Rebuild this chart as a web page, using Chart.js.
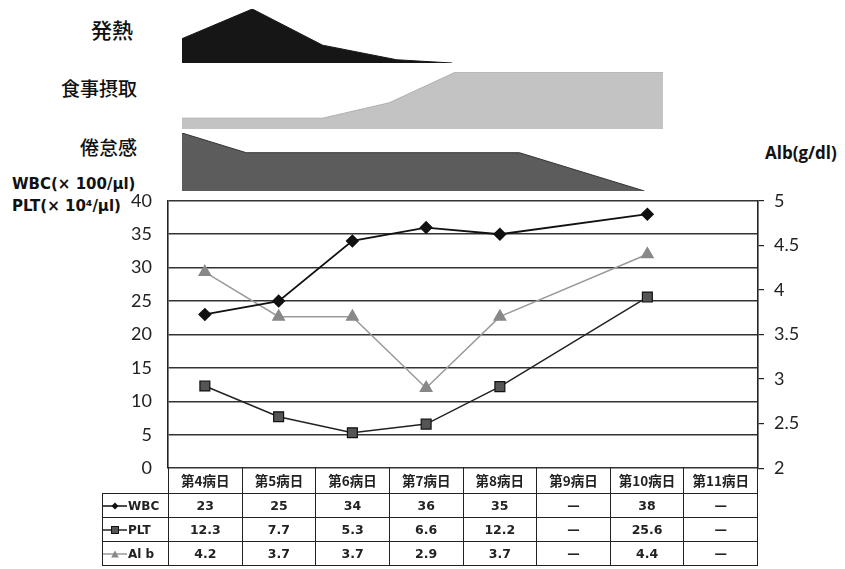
<!DOCTYPE html>
<html>
<head>
<meta charset="utf-8">
<script src="https://cdn.jsdelivr.net/npm/chart.js@4.4.1/dist/chart.umd.min.js"></script>
<style>
  body { margin: 0; background: #fff; }
  #page { position: relative; width: 845px; height: 569px; overflow: hidden; }
  .band { position: absolute; left: 182px; width: 481px; }
  .bandLabel { position: absolute; width: 140px; left: -3px; text-align: right; font-family: "Noto Sans CJK JP"; font-size: 19px; font-weight: 500; color: #111; line-height: 24px; }
  .axisTitle { position: absolute; font-family: "DejaVu Sans"; font-weight: bold; font-size: 15px; color: #111; white-space: nowrap; }
  #main { position: absolute; left: 0; top: 174px; }
  #tbl { position: absolute; left: 102px; top: 467px; border-collapse: collapse; table-layout: fixed; width: 656px; }
  #tbl td { border: 1.5px solid #222; text-align: center; padding: 0; height: 23px;
    font-family: "DejaVu Sans"; font-weight: bold; font-size: 12.5px; color: #222; }
  #tbl tr.head td { height: 26px; font-family: "Noto Sans CJK JP"; font-size: 13.5px; font-weight: bold; border-top: none; }
  #tbl tr.head td.blank { border: none; border-right: 1.5px solid #222; }
  #tbl td.legend { text-align: left; font-size: 12px; white-space: nowrap; }
  #tbl td.legend svg { vertical-align: middle; margin-right: 1px; }
</style>
</head>
<body>
<div id="page">
  <div class="bandLabel" style="top:17px; left:-7px; font-size:21px">発熱</div>
  <div class="bandLabel" style="top:76px">食事摂取</div>
  <div class="bandLabel" style="top:135px">倦怠感</div>
  <canvas id="fever" class="band" style="top:9px" width="481" height="54"></canvas>
  <canvas id="meal" class="band" style="top:72px" width="481" height="57"></canvas>
  <canvas id="fatigue" class="band" style="top:133px" width="481" height="58"></canvas>

  <div class="axisTitle" style="left:12px; top:175px">WBC(× 100/μl)</div>
  <div class="axisTitle" style="left:12px; top:197px">PLT(× 10⁴/μl)</div>
  <div class="axisTitle" style="left:765px; top:141px; font-family:'Open Sans'; font-size:17px">Alb(g/dl)</div>

  <canvas id="main" width="845" height="321"></canvas>
  <table id="tbl"></table>
</div>
<script>
// Categories (hospital day)
const days = ['第4病日', '第5病日', '第6病日', '第7病日', '第8病日', '第9病日', '第10病日', '第11病日'];

// Lab values ("—" in the table where missing)
const wbc = [23, 25, 34, 36, 35, null, 38, null];
const plt = [12.3, 7.7, 5.3, 6.6, 12.2, null, 25.6, null];
const alb = [4.2, 3.7, 3.7, 2.9, 3.7, null, 4.4, null];

// Symptom bands: x in hospital days, level 0..1
const feverDay = [3.7, 4.65, 5.6, 6.6, 7.35];
const feverLevel = [0.45, 1, 0.33, 0.06, 0];
const mealDay = [3.7, 5.6, 6.5, 7.4, 10.2];
const mealLevel = [0.19, 0.19, 0.46, 1, 1];
const fatigueDay = [3.7, 4.57, 8.26, 9.95];
const fatigueLevel = [1, 0.66, 0.66, 0];

// Axis ticks
const leftMin = 0, leftMax = 40, leftStep = 5;
const rightMin = 2, rightMax = 5, rightStep = 0.5;

Chart.defaults.animation = false;
Chart.defaults.plugins.legend.display = false;
Chart.defaults.plugins.tooltip.enabled = false;

// small area chart for each symptom band
function bandChart(id, xs, ys, fillColor, lineColor) {
    new Chart(document.getElementById(id), {
        type: 'line',
        data: {
            datasets: [{
                data: xs.map((x, i) => ({ x: x, y: ys[i] })),
                fill: 'origin',
                backgroundColor: fillColor,
                borderColor: lineColor,
                borderWidth: 1,
                pointRadius: 0,
                tension: 0
            }]
        },
        options: {
            responsive: false,
            layout: { padding: 0 },
            scales: {
                x: { type: 'linear', min: 3.7, max: 10.2, display: false },
                y: { min: 0, max: 1, display: false }
            }
        }
    });
}

bandChart('fever', feverDay, feverLevel, '#161616', '#161616');
bandChart('meal', mealDay, mealLevel, '#c3c3c3', '#b0b0b0');
bandChart('fatigue', fatigueDay, fatigueLevel, '#5c5c5c', '#333333');

const tickFont = { family: 'Lato', size: 18 };

new Chart(document.getElementById('main'), {
    type: 'line',
    data: {
        labels: days,
        datasets: [
            {
                label: 'WBC', data: wbc, yAxisID: 'y',
                borderColor: '#111', borderWidth: 1.8,
                pointStyle: 'rectRot', pointRadius: 5.5,
                pointBackgroundColor: '#111', pointBorderColor: '#111',
                spanGaps: true, tension: 0
            },
            {
                label: 'PLT', data: plt, yAxisID: 'y',
                borderColor: '#222', borderWidth: 1.5,
                pointStyle: 'rect', pointRadius: 7,
                pointBackgroundColor: '#555', pointBorderColor: '#111', pointBorderWidth: 1.2,
                spanGaps: true, tension: 0
            },
            {
                label: 'Alb', data: alb, yAxisID: 'y1',
                borderColor: '#9a9a9a', borderWidth: 1.5,
                pointStyle: 'triangle', pointRadius: 6.5,
                pointBackgroundColor: '#888', pointBorderColor: '#888',
                spanGaps: true, tension: 0
            }
        ]
    },
    options: {
        responsive: false,
        layout: { padding: { left: 0, right: 0, top: 20, bottom: 13 } },
        scales: {
            x: { display: false, offset: true },
            y: {
                position: 'left', min: leftMin, max: leftMax,
                ticks: { stepSize: leftStep, padding: 16, font: tickFont, color: '#222', callback: (v) => String(v) },
                grid: { color: '#333', lineWidth: 1.6, drawTicks: false },
                border: { color: '#222', width: 1.6 },
                afterFit: (s) => { s.width = 168; }
            },
            y1: {
                position: 'right', min: rightMin, max: rightMax,
                ticks: { stepSize: rightStep, padding: 10, font: tickFont, color: '#222', callback: (v) => String(v) },
                grid: { drawOnChartArea: false, drawTicks: true, tickLength: 6, color: '#222', lineWidth: 1.2 },
                border: { color: '#222', width: 1.6 },
                afterFit: (s) => { s.width = 845 - 758; }
            }
        }
    }
});

// data table under the plot
const legendMarks = {
    WBC: '<path d="M4 0.5 L7.5 4 L4 7.5 L0.5 4 Z" fill="#111"/>',
    PLT: '<rect x="0.5" y="0.5" width="7" height="7" fill="#555" stroke="#111"/>',
    Alb: '<path d="M4 0.5 L7.8 7.5 L0.2 7.5 Z" fill="#888"/>'
};
const legendLine = { WBC: '#111', PLT: '#222', Alb: '#999' };
const rows = [['WBC', wbc], ['PLT', plt], ['Alb', alb]];

const tbl = document.getElementById('tbl');
let html = '<colgroup><col style="width:66px">' + days.map(() => '<col>').join('') + '</colgroup>';
html += '<tr class="head"><td class="blank"></td>' + days.map(d => '<td>' + d + '</td>').join('') + '</tr>';
rows.forEach(([name, vals]) => {
    const svg = '<svg width="24" height="8" viewBox="0 0 24 8"><line x1="0" y1="4" x2="24" y2="4" stroke="' +
        legendLine[name] + '" stroke-width="1.5"/><g transform="translate(8,0)">' + legendMarks[name] + '</g></svg>';
    html += '<tr><td class="legend">' + svg + (name === 'Alb' ? 'Al b' : name) + '</td>' +
        vals.map(v => '<td>' + (v === null ? '—' : v) + '</td>').join('') + '</tr>';
});
tbl.innerHTML = html;
</script>
</body>
</html>
